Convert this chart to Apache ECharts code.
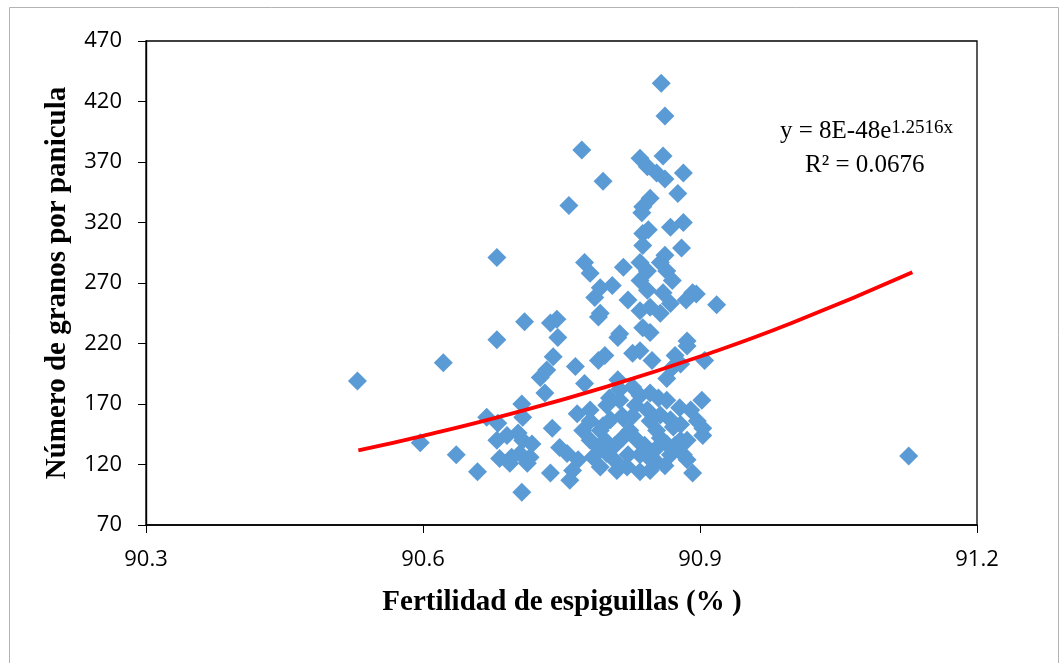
<!DOCTYPE html>
<html>
<head>
<meta charset="utf-8">
<script src="https://cdn.jsdelivr.net/npm/echarts@6/dist/echarts.min.js"></script>
<style>
  html, body { margin: 0; padding: 0; background: #ffffff; }
  #chart { width: 1064px; height: 663px; }
</style>
</head>
<body>
<div id="chart"></div>
<script>
// Fertilidad de espiguillas (%) — x values
const fertility = [
  90.858, 90.862, 90.772, 90.795, 90.758, 90.860, 90.835, 90.843, 90.853, 90.862,
  90.882, 90.876, 90.846, 90.838, 90.837, 90.882, 90.844, 90.838, 90.868, 90.838,
  90.880, 90.862, 90.775, 90.781, 90.817, 90.835, 90.843, 90.857, 90.864, 90.870,
  90.792, 90.805, 90.786, 90.835, 90.843, 90.892, 90.896, 90.885, 90.918, 90.860,
  90.868, 90.835, 90.846, 90.857, 90.790, 90.792, 90.738, 90.745, 90.746, 90.813,
  90.838, 90.846, 90.886, 90.886, 90.710, 90.680, 90.680, 90.622, 90.529, 91.126,
  90.811, 90.827, 90.835, 90.790, 90.797, 90.765, 90.741, 90.734, 90.727, 90.848,
  90.873, 90.879, 90.870, 90.905, 90.864, 90.775, 90.732, 90.811, 90.813, 90.827,
  90.902, 90.740, 90.773, 90.767, 90.781, 90.799, 90.816, 90.843, 90.864, 90.878,
  90.897, 90.903, 90.886, 90.903, 90.748, 90.756, 90.781, 90.790, 90.816, 90.824,
  90.832, 90.857, 90.864, 90.768, 90.784, 90.799, 90.810, 90.821, 90.835, 90.844,
  90.853, 90.882, 90.886, 90.738, 90.759, 90.892, 90.792, 90.762, 90.781, 90.795,
  90.846, 90.817, 90.827, 90.802, 90.846, 90.855, 90.871, 90.879, 90.853, 90.669,
  90.681, 90.707, 90.708, 90.680, 90.691, 90.703, 90.708, 90.718, 90.716, 90.683,
  90.694, 90.713, 90.659, 90.707, 90.597, 90.636, 90.696, 90.705, 90.803, 90.808,
  90.822, 90.835, 90.840, 90.851, 90.868, 90.873, 90.792, 90.797, 90.808, 90.846,
  90.862, 90.813, 90.830, 90.835, 90.857, 90.868, 90.879, 90.890, 90.822
];
// Número de granos por panicula — y values
const grains = [
  435, 408, 380, 354, 334, 375, 373, 366, 361, 356,
  361, 344, 340, 333, 328, 320, 314, 311, 316, 301,
  299, 293, 287, 278, 283, 287, 280, 287, 280, 272,
  266, 268, 258, 272, 264, 262, 261, 256, 252, 262,
  253, 247, 250, 245, 242, 245, 237, 240, 225, 228,
  233, 229, 222, 218, 238, 291, 223, 204, 189, 127,
  225, 212, 214, 206, 210, 201, 209, 198, 192, 206,
  210, 203, 200, 206, 191, 187, 179, 190, 182, 184,
  173, 150, 148, 162, 165, 169, 160, 165, 173, 167,
  156, 150, 140, 144, 134, 129, 140, 134, 142, 148,
  140, 142, 137, 124, 126, 129, 115, 118, 114, 126,
  122, 128, 124, 113, 107, 113, 118, 115, 156, 152,
  156, 158, 160, 175, 179, 175, 151, 140, 148, 159,
  154, 170, 159, 140, 144, 146, 140, 137, 126, 125,
  121, 121, 114, 97, 138, 128, 126, 129, 157, 136,
  128, 128, 136, 132, 128, 136, 148, 140, 123, 115,
  119, 173, 169, 177, 161, 157, 153, 165, 256
];
// Exponential trend line (y = 8E-48e^1.2516x)
const trendX = [90.53, 90.6, 90.7, 90.8, 90.9, 91.0, 91.13];
const trendY = [131.7, 143.7, 162.9, 184.6, 209.2, 237.1, 278.9];

const xTicks = { min: 90.3, max: 91.2, interval: 0.3 };
const yTicks = { min: 70, max: 470, interval: 50 };

const xTitle = 'Fertilidad de espiguillas (% )';
const yTitle = 'Número de granos por panicula';
const eqMain = 'y = 8E-48e';
const eqExp = '1.2516x';
const r2Text = 'R² = 0.0676';

const scatterData = fertility.map((x, i) => [x, grains[i]]);
const trendData = trendX.map((x, i) => [x, trendY[i]]);

const chart = echarts.init(document.getElementById('chart'), null, { renderer: 'canvas' });
const serif = '"Liberation Serif", "Times New Roman", serif';
const sans = '"Open Sans", "Noto Sans", sans-serif';

chart.setOption({
  animation: false,
  backgroundColor: '#ffffff',
  grid: {
    left: 146, right: 87, top: 41, bottom: 138,
    show: true, borderColor: '#000000', borderWidth: 1.3, backgroundColor: 'transparent'
  },
  xAxis: {
    type: 'value',
    min: xTicks.min, max: xTicks.max, interval: xTicks.interval,
    axisLine: { show: true, onZero: false, lineStyle: { color: '#000', width: 1.6 } },
    axisTick: { show: true, inside: false, length: 8, lineStyle: { color: '#000', width: 1 } },
    axisLabel: {
      margin: 24, color: '#000', fontFamily: sans, fontSize: 22,
      formatter: v => v.toFixed(1)
    },
    splitLine: { show: false }
  },
  yAxis: {
    type: 'value',
    min: yTicks.min, max: yTicks.max, interval: yTicks.interval,
    axisLine: { show: true, onZero: false, lineStyle: { color: '#000', width: 1.4 } },
    axisTick: { show: true, inside: false, length: 8, lineStyle: { color: '#000', width: 1 } },
    axisLabel: { margin: 24, color: '#000', fontFamily: sans, fontSize: 22 },
    splitLine: { show: false }
  },
  series: [
    {
      type: 'scatter',
      data: scatterData,
      symbol: 'diamond',
      symbolSize: 19,
      itemStyle: { color: '#5b9bd5', opacity: 1 },
      emphasis: { disabled: true },
      z: 2
    },
    {
      type: 'line',
      data: trendData,
      smooth: true,
      showSymbol: false,
      symbol: 'none',
      lineStyle: { color: '#ff0000', width: 3.8 },
      emphasis: { disabled: true },
      z: 3
    }
  ],
  graphic: [
    {
      type: 'rect', left: 7, top: 5, silent: true,
      shape: { width: 1049, height: 700 },
      style: { fill: 'none', stroke: '#b3b3b3', lineWidth: 1 }
    },
    {
      type: 'text', silent: true,
      style: {
        text: xTitle, x: 562, y: 603, align: 'center', verticalAlign: 'middle',
        font: 'bold 29px ' + serif, fill: '#000'
      }
    },
    {
      type: 'text', silent: true,
      x: 58, y: 283, rotation: Math.PI / 2,
      style: {
        text: yTitle, x: 0, y: 0, align: 'center', verticalAlign: 'middle',
        font: 'bold 29px ' + serif, fill: '#000'
      }
    },
    {
      type: 'text', silent: true,
      style: {
        x: 780, y: 119,
        text: '{a|' + eqMain + '}{b|' + eqExp + '}',
        rich: {
          a: { font: '25px ' + serif, fill: '#000', verticalAlign: 'bottom' },
          b: { font: '19px ' + serif, fill: '#000', verticalAlign: 'top' }
        }
      }
    },
    {
      type: 'text', silent: true,
      style: {
        text: r2Text, x: 805, y: 165, verticalAlign: 'middle',
        font: '25px ' + serif, fill: '#000'
      }
    }
  ]
});
</script>
</body>
</html>
